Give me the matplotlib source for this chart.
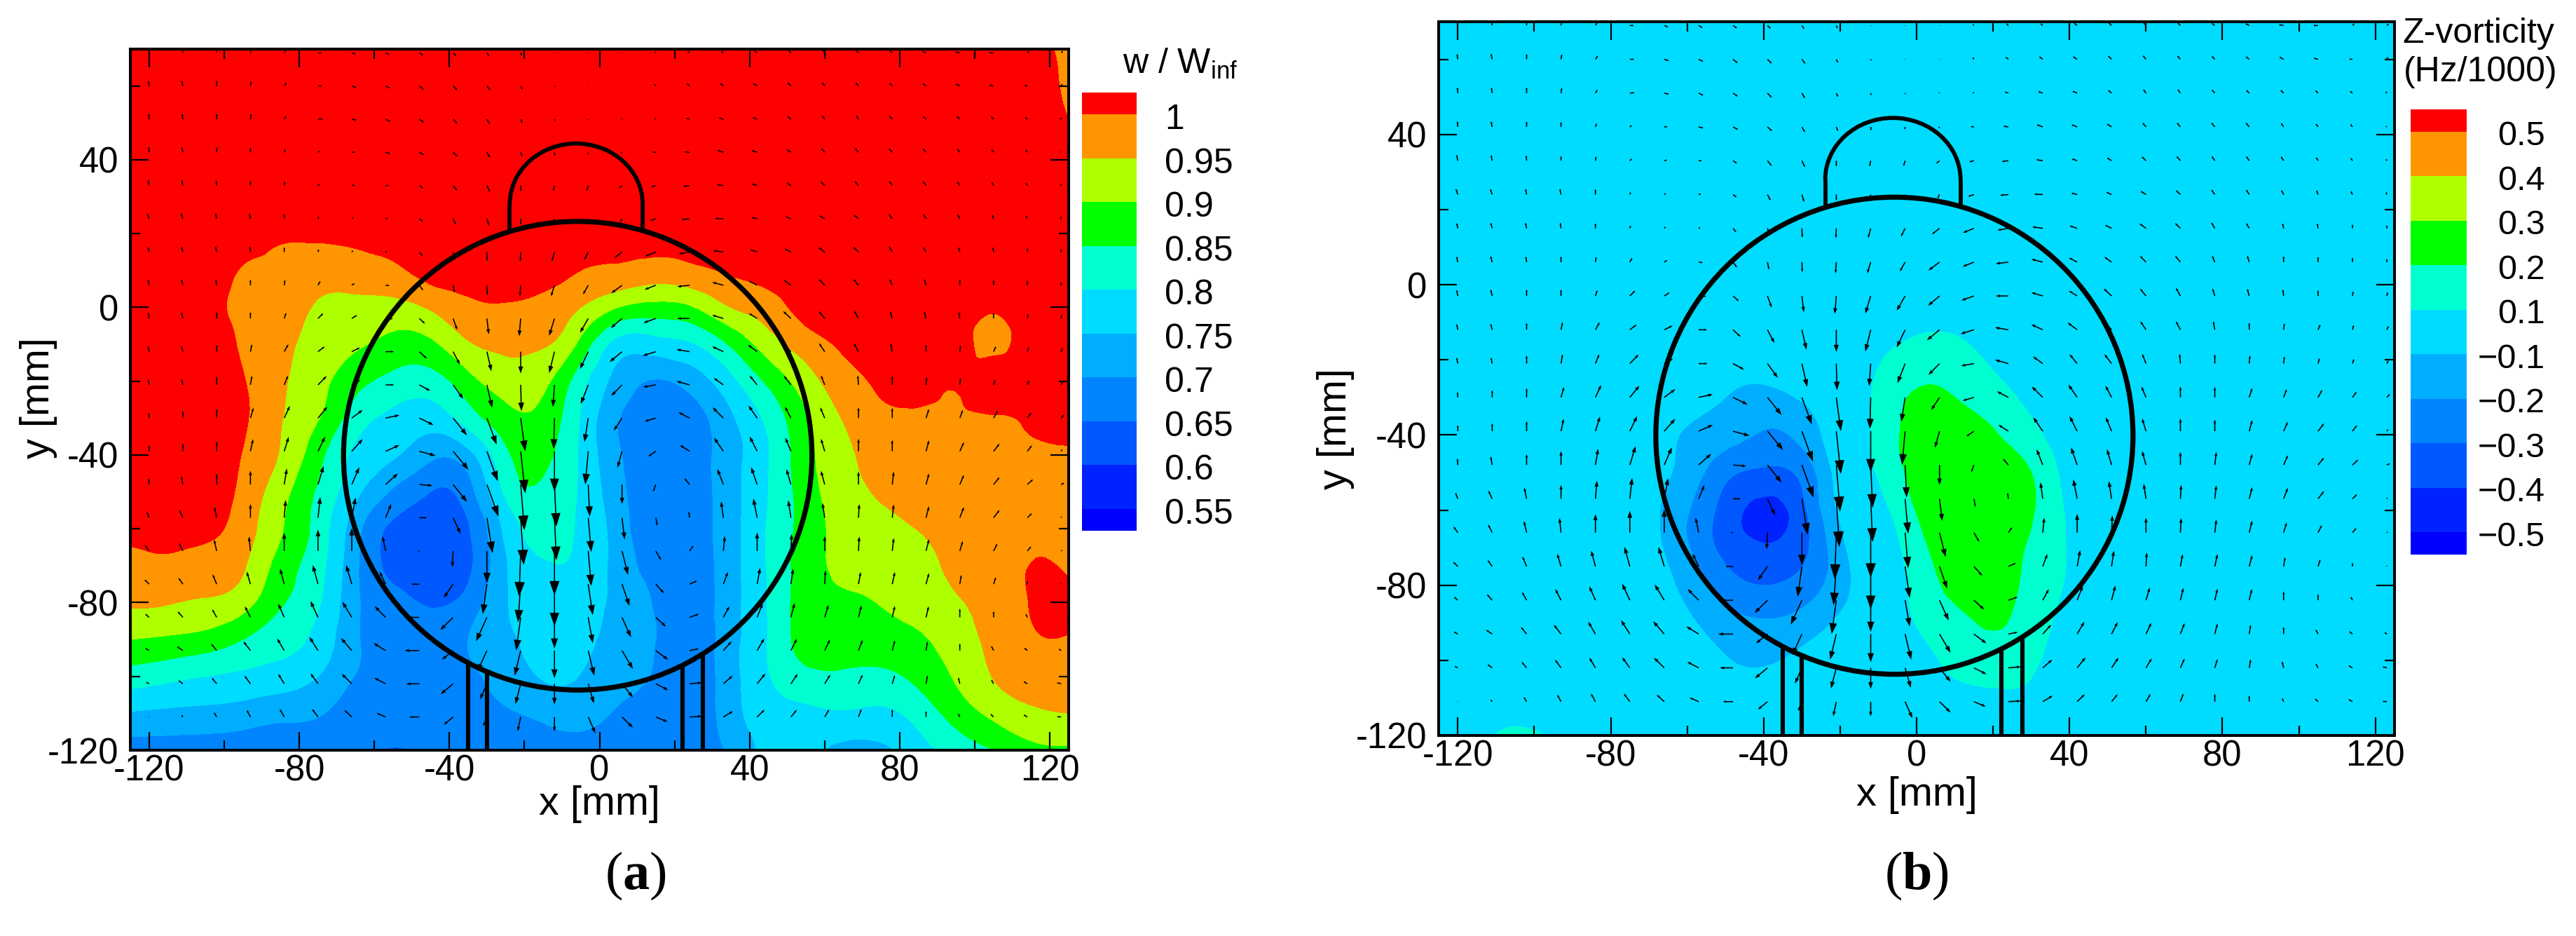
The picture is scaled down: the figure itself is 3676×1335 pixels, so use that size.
import numpy as np
import matplotlib
matplotlib.use("Agg")
import matplotlib.pyplot as plt
import matplotlib.tri as mtri
from matplotlib.patches import Ellipse, Arc
from matplotlib.colors import ListedColormap, BoundaryNorm

plt.rcParams['font.family'] = 'Liberation Sans'
plt.rcParams['mathtext.fontset'] = 'custom'
plt.rcParams['mathtext.rm'] = 'Liberation Sans'
plt.rcParams['mathtext.bf'] = 'Liberation Serif:bold'
plt.rcParams['axes.unicode_minus'] = False

# 1) colour bands, shared by both panels
band_colors = ['#0000FF', '#0022FF', '#0058FF', '#0085FF', '#00AEFF', '#00DCFF',
               '#00FFD0', '#00FF00', '#AEFF00', '#FF9500', '#FF0000']

# 2) panel a: w / W_inf x 100, one list per x column, top (y=70) to bottom (y=-120)
w_x = [-125, -115, -105, -95, -85, -75, -65, -55, -45, -35, -25, -15, -5,
       5, 15, 25, 35, 45, 55, 65, 75, 85, 95, 105, 115, 125]
grid_y = [70, 60, 50, 40, 30, 20, 10, 0, -10, -20, -30, -40, -50, -60, -70, -80, -90, -100, -110, -120]
w_cols = [
    [104, 104, 104, 104, 104, 104, 104, 104, 104, 104, 104, 104, 103, 101.5, 98.5, 95.6, 90, 82.7, 74.6, 67.5],
    [104, 104, 104, 104, 104, 104, 104, 104, 104, 104, 104, 104, 103.5, 102, 99, 95.3, 89.2, 81.4, 74, 67.5],
    [104, 104, 104, 104, 104, 104, 103, 101.8, 102.2, 103, 103.5, 103.5, 103, 101.3, 98, 94.4, 88, 80, 73.6, 67],
    [104, 104, 104, 104, 104, 102.5, 99.7, 99, 99.5, 100.3, 100.8, 99.8, 98.7, 97.5, 95.5, 92, 85, 79, 72.8, 66.5],
    [104, 104, 104, 104, 103, 100.7, 99, 97.5, 96.5, 95.8, 95.3, 94.6, 92, 90.5, 88, 85.6, 82, 77.8, 71.5, 66],
    [104, 104, 104, 104, 103, 100.9, 97.3, 94.5, 93, 91.7, 90.3, 86.7, 84.3, 83, 81.8, 80.6, 78.3, 75, 70.5, 66],
    [104, 104, 104, 104, 103, 101.5, 97.5, 93.7, 90.7, 86.7, 82.5, 79, 76.3, 72, 71, 71, 70.8, 69.8, 67.5, 65.8],
    [104, 104, 104, 104, 103.5, 102.5, 98.9, 93.4, 88.3, 83.4, 78.8, 75.6, 69.3, 64, 63.8, 66.5, 67, 67.3, 67.3, 64.7],
    [104, 104, 104, 104, 103.5, 103, 101.8, 95.6, 88.9, 82.8, 77.4, 71.2, 65, 62.5, 62, 64.5, 66.5, 67, 67, 65.5],
    [104, 104, 104, 104, 104, 103.5, 102, 98.9, 94.4, 88.2, 82.4, 73.3, 67.9, 64.6, 64, 67, 70, 69, 68, 66],
    [104, 104, 104, 104, 104, 102.5, 101, 99.7, 96.2, 92.5, 88.2, 83.9, 81, 76.3, 74.5, 74.5, 74, 72, 69.5, 67],
    [104, 104, 104, 104, 104, 103, 101.5, 98.8, 95.5, 91.3, 88.4, 86.3, 84, 81.7, 79.6, 78.2, 76.8, 75.4, 71, 68],
    [104, 104, 104, 104, 104, 102, 100, 95, 88.5, 82, 79.7, 79.3, 79.3, 79.3, 79, 77.8, 76.5, 74.8, 71.5, 69],
    [104, 104, 104, 104, 104, 102.5, 99, 90, 78, 73, 70.2, 70.6, 71.5, 72.5, 73, 73.5, 73, 71.5, 69.6, 68],
    [104, 104, 104, 104, 104, 102, 98, 88.3, 77.8, 69.7, 67, 66.5, 66.5, 66.5, 68, 69.5, 70, 69.5, 68, 67],
    [104, 104, 104, 104, 104, 102.5, 99, 89.8, 79.7, 72.2, 68, 67.5, 67.5, 67.5, 67.5, 67.5, 67.5, 67.5, 67.5, 67.5],
    [104, 104, 104, 104, 104, 103, 100.5, 95, 85.6, 78.6, 74.2, 73, 73, 73, 73, 73, 73, 73, 72.7, 71],
    [104, 104, 104, 104, 104, 103.5, 101.8, 97.8, 92.6, 86, 81.3, 79.8, 80, 80.5, 80.5, 80.3, 80.2, 79.7, 78, 76.5],
    [104, 104, 104, 104, 104, 104, 103, 101.9, 97.5, 92.7, 89.4, 88.3, 87.5, 87, 87.5, 87.5, 87, 83.5, 79, 76.5],
    [104, 104, 104, 104, 104, 104, 103.5, 102.5, 100.7, 98, 95.3, 93.7, 93, 92, 91, 89.2, 87, 84.3, 79.5, 73.5],
    [104, 104, 104, 104, 104, 104, 104, 103, 102, 100.7, 99, 97.2, 95.4, 94, 92, 90.2, 87.8, 83.9, 79, 74],
    [104, 104, 104, 104, 104, 104, 104, 103.5, 103, 101.3, 99.4, 98, 96.5, 95.1, 93.5, 92, 89.3, 86.3, 82, 78],
    [104, 104, 104, 104, 104, 104, 104, 103.5, 102.5, 100.5, 99.5, 98.5, 97.6, 96.7, 95.8, 94.5, 92.6, 90.6, 87, 82],
    [104, 104, 104, 104, 104, 104, 103, 100.6, 98.5, 102.5, 99.7, 99, 98.5, 98, 97.5, 97, 96.3, 95.2, 91.2, 85],
    [104, 104, 104, 104, 104, 104, 104, 104, 103.5, 102, 100.5, 99.5, 99, 99.3, 100.1, 100.2, 99.4, 97.5, 94, 88.5],
    [96, 98, 100.3, 103, 104, 104, 104, 104, 103.5, 102, 101, 99.7, 99, 99, 99.4, 100.8, 99.7, 97.7, 95, 89],
]
w_levels = [0.55, 0.6, 0.65, 0.7, 0.75, 0.8, 0.85, 0.9, 0.95, 1.0]
w_labels = ['0.55', '0.6', '0.65', '0.7', '0.75', '0.8', '0.85', '0.9', '0.95', '1']

# 3) panel b: z vorticity, background is 0, only the vortex pair area is read off
vort_x = [-125, -120, -110, -100, -90, -80, -70, -60, -50, -40, -30, -20, -10, 0,
          10, 20, 30, 40, 50, 60, 70, 80, 90, 100, 110, 120, 125]
# rows y=-10..-110, columns x=-70..40
vort_core = [
    [0, 0, 0, 0, 0, 0, .03, .07, .07, .03, 0, 0],
    [0, 0, -.04, -.05, -.02, 0, .09, .15, .15, .08, .02, 0],
    [-.02, -.05, -.10, -.13, -.09, -.01, .125, .21, .2, .15, .07, .02],
    [-.05, -.11, -.16, -.21, -.17, -.02, .13, .24, .25, .21, .13, .04],
    [-.06, -.14, -.27, -.32, -.27, -.05, .11, .23, .26, .26, .2, .06],
    [-.07, -.19, -.34, -.43, -.33, -.08, .06, .205, .27, .27, .21, .08],
    [-.06, -.19, -.33, -.39, -.33, -.13, .02, .16, .26, .26, .185, .09],
    [-.05, -.13, -.25, -.30, -.26, -.14, 0, .13, .23, .25, .17, .085],
    [-.03, -.08, -.16, -.19, -.16, -.08, 0, .105, .17, .21, .15, .06],
    [0, -.02, -.09, -.115, -.07, -.03, 0, .05, .13, .15, .12, .03],
    [0, 0, -.03, -.03, 0, 0, 0, .02, .06, .08, .07, .01],
]
vort_corner = [.105, .125]   # small patch at bottom, x=-110 and x=-100
vort_levels = [-.5, -.4, -.3, -.2, -.1, .1, .2, .3, .4, .5]
vort_labels = ['\u22120.5', '\u22120.4', '\u22120.3', '\u22120.2', '\u22120.1', '0.1', '0.2', '0.3', '0.4', '0.5']

# 4) velocity arrows in 1/10 mm, tails at x=-120+9k, y=69-9r (same field in both panels)
arrow_x = [-120, -111, -102, -93, -84, -75, -66, -57, -48, -39, -30, -21, -12, -3,
           6, 15, 24, 33, 42, 51, 60, 69, 78, 87, 96, 105, 114, 123]
arrow_y = [69, 60, 51, 42, 33, 24, 15, 6, -3, -12, -21, -30, -39, -48, -57, -66, -75, -84, -93, -102, -111]
arrow_u = [
    [-2, -2, 0, 2, 5, 10, 10, 10, 10, 8, 6, 3, 1, 0, 0, -3, -5, -6, -8, -8, -7, -7, -8, -10, -12, -12, 5, 5],
    [-2, -3, 0, 2, 6, 11, 12, 12, 12, 11, 9, 4, 1, 0, 0, -3, -7, -9, -11, -9, -8, -8, -8, -9, -11, -11, -8, 3],
    [-1, -2, 0, 2, 5, 12, 12, 12, 12, 11, 8, 4, 1, 0, -1, -3, -9, -12, -12, -9, -7, -7, -8, -8, -8, -7, -6, -3],
    [-1, -3, 0, 0, 3, 5, 8, 12, 13, 12, 8, 4, 1, -1, -2, -8, -13, -16, -15, -12, -9, -9, -9, -9, -7, -6, -5, -2],
    [-3, -3, -1, 0, 2, 5, 7, 8, 10, 11, 8, 0, -3, -4, -8, -12, -17, -17, -14, -12, -11, -10, -8, -8, -7, -5, -4, -2],
    [-5, -5, -3, -3, 0, 2, 4, 6, 9, 8, 6, 0, -3, -4, -5, -15, -22, -23, -15, -14, -14, -12, -9, -8, -6, -4, -4, -2],
    [-3, -4, -3, -2, 0, 2, 3, 4, 8, 5, 1, -1, -7, -11, -20, -29, -29, -28, -20, -17, -17, -14, -9, -8, -3, -2, 0, 0],
    [-3, -4, -2, 0, 2, 6, 7, 10, 10, 4, 1, -2, -9, -14, -29, -30, -33, -30, -22, -19, -16, -14, -7, -5, 0, 0, 0, 0],
    [-3, -4, 0, 0, 5, 14, 14, 20, 15, 11, 5, -4, -14, -22, -30, -33, -33, -30, -22, -21, -16, -12, -6, -5, -2, 0, 2, 2],
    [-3, -4, 0, 4, 11, 18, 22, 22, 20, 18, 12, 0, -14, -22, -33, -35, -35, -30, -25, -20, -15, -12, -4, 0, 2, 6, 3, 4],
    [-3, -3, 0, 4, 10, 23, 23, 23, 29, 27, 14, 2, -4, -20, -29, -34, -35, -26, -20, -19, -10, -2, 0, 2, 2, 4, 4, 4],
    [-1, 0, 0, 8, 15, 25, 29, 37, 38, 37, 26, 12, -2, -10, -22, -30, -30, -29, -23, -16, -12, 0, 0, 8, 8, 11, 11, 8],
    [0, 0, 0, 7, 12, 19, 29, 37, 43, 41, 29, 12, 0, -8, -12, -20, -26, -25, -20, -15, -10, 0, 0, 8, 11, 16, 12, 3],
    [-1, -4, 0, 0, 7, 15, 20, 33, 35, 37, 31, 10, 5, 4, 0, -7, -14, -16, -16, -12, -10, 0, 4, 8, 11, 16, 15, 8],
    [-6, -10, -6, 0, 4, 6, 10, 15, 20, 20, 15, 8, 5, 8, 7, 4, -2, -6, -10, -7, -6, 2, 4, 8, 11, 16, 12, 1],
    [-11, -11, -7, -4, 0, 0, 0, -8, -4, -2, 0, -4, 0, 8, 16, 14, 10, 4, 0, 2, 0, 2, 4, 8, 8, 10, 10, 2],
    [-12, -12, -11, -10, -11, -14, -15, -16, -20, -25, -11, -7, 0, 12, 20, 22, 20, 12, 8, 6, 2, 6, 7, 8, 4, 6, 0, 0],
    [-10, -14, -12, -15, -16, -20, -25, -29, -29, -34, -29, -12, 0, 12, 24, 27, 25, 16, 15, 10, 10, 8, 7, 7, 0, 0, -4, 0],
    [-10, -16, -15, -19, -19, -23, -29, -32, -39, -30, -25, -16, 0, 16, 29, 33, 25, 22, 19, 16, 14, 11, 7, 4, 0, -6, -8, -6],
    [-8, -12, -13, -16, -16, -20, -27, -30, -35, -33, -18, -14, 0, 15, 29, 33, 33, 25, 22, 18, 15, 11, 7, 4, -4, -6, -10, -11],
    [0, -4, -7, -10, -12, -16, -20, -24, -27, -25, -10, -8, 0, 19, 29, 31, 33, 26, 20, 16, 12, 8, 0, 0, -4, -8, -10, -11],
]
arrow_v = [
    [12, 12, 12, 12, 9, 0, -4, -6, -7, -8, -9, -8, -1, -1, -1, 3, 5, 5, 6, 8, 8, 7, 6, 5, 2, 0, 5, 4],
    [14, 15, 14, 13, 9, 0, -4, -6, -10, -11, -12, -9, -3, -1, -1, 5, 6, 7, 7, 9, 10, 9, 8, 7, 6, 3, 1, 6],
    [15, 15, 15, 14, 9, 1, -3, -6, -9, -12, -14, -10, -5, -3, 2, 2, 3, 4, 5, 8, 10, 10, 9, 8, 8, 7, 5, 4],
    [15, 15, 14, 13, 9, 4, 1, -3, -7, -11, -14, -11, -9, -6, -3, 1, 2, 6, 6, 8, 11, 11, 11, 11, 10, 8, 7, 2],
    [16, 15, 14, 12, 11, 5, 2, 0, -7, -14, -17, -15, -15, -14, -7, -3, -2, 3, 5, 8, 11, 12, 12, 12, 11, 9, 7, 4],
    [15, 15, 15, 15, 14, 6, 3, 2, -7, -16, -20, -16, -17, -15, -10, -5, -2, 1, 4, 6, 9, 11, 13, 13, 12, 11, 9, 6],
    [14, 15, 15, 15, 13, 7, 4, 2, -10, -14, -25, -26, -26, -22, -16, -12, -5, 4, 7, 9, 13, 14, 16, 14, 13, 13, 10, 8],
    [15, 16, 15, 15, 14, 11, 5, -1, -14, -20, -27, -30, -30, -25, -22, -12, -4, 8, 12, 14, 17, 17, 17, 17, 16, 14, 12, 8],
    [16, 17, 17, 17, 15, 14, 9, -1, -14, -31, -43, -48, -47, -39, -26, -12, 0, 9, 14, 20, 20, 22, 20, 19, 17, 15, 12, 10],
    [15, 16, 18, 20, 20, 14, 11, 0, -19, -35, -53, -59, -58, -47, -28, -11, 6, 14, 19, 23, 23, 23, 23, 19, 17, 14, 12, 10],
    [16, 16, 22, 25, 25, 24, 13, 0, -16, -38, -62, -71, -60, -52, -30, -6, 10, 19, 25, 25, 26, 26, 25, 22, 19, 14, 12, 8],
    [14, 19, 25, 28, 33, 31, 22, 8, -19, -47, -72, -90, -84, -65, -34, -9, 16, 29, 34, 31, 29, 29, 28, 25, 22, 20, 15, 9],
    [16, 21, 27, 33, 39, 40, 33, 17, -12, -50, -81, -114, -109, -90, -44, -14, 17, 37, 40, 37, 34, 34, 31, 30, 25, 21, 16, 5],
    [17, 23, 29, 37, 43, 50, 47, 30, -3, -47, -87, -124, -114, -87, -53, -19, 17, 42, 47, 42, 37, 35, 35, 30, 26, 20, 14, 4],
    [16, 22, 30, 37, 48, 56, 55, 37, 0, -44, -96, -128, -115, -93, -59, -22, 16, 44, 52, 47, 40, 37, 36, 31, 29, 21, 12, 3],
    [16, 22, 31, 39, 49, 58, 62, 40, 0, -44, -87, -124, -120, -95, -65, -25, 14, 40, 50, 46, 40, 39, 35, 32, 27, 20, 12, 2],
    [12, 17, 27, 34, 42, 52, 52, 34, 0, -37, -81, -103, -114, -84, -59, -25, 9, 33, 44, 42, 37, 33, 33, 30, 25, 19, 9, 2],
    [9, 16, 22, 30, 37, 44, 42, 30, 0, -34, -65, -90, -84, -70, -54, -25, 9, 30, 39, 39, 34, 33, 31, 30, 24, 16, 9, 1],
    [6, 11, 19, 25, 33, 37, 34, 20, 0, -25, -56, -68, -75, -68, -50, -25, 5, 25, 33, 32, 30, 29, 28, 25, 19, 12, 7, 4],
    [4, 9, 16, 22, 27, 28, 27, 16, 0, -28, -42, -55, -56, -53, -37, -17, 3, 22, 28, 27, 25, 25, 24, 23, 17, 11, 6, 3],
    [1, 5, 12, 19, 22, 22, 19, 11, 0, -21, -25, -39, -39, -44, -29, -13, 2, 16, 20, 20, 21, 22, 21, 16, 9, 8, 6, 1],
]

# model outline, mm
CIRCLE_X, CIRCLE_Y, CIRCLE_RX, CIRCLE_RY = -5.8, -40.2, 62.4, 63.5
DOME_X, DOME_Y, DOME_RX, DOME_RY = -6.2, 28.0, 17.7, 16.4
STRUTS = [-35.0, -30.0, 22.2, 27.6]

W, H = 3676, 1335


def px_axes(x0, y0, x1, y1):
    return [x0 / W, 1 - y1 / H, (x1 - x0) / W, (y1 - y0) / H]


def draw_panel(ax, xs, z, levels):
    X, Y = np.meshgrid(xs, grid_y)
    tri = mtri.Triangulation(X.ravel(), Y.ravel())
    tri_f, z_f = mtri.UniformTriRefiner(tri).refine_field(z.ravel(), subdiv=3)
    ax.tricontourf(tri_f, z_f, levels=[-9] + levels + [9], colors=band_colors)

    for r, y in enumerate(arrow_y):
        for k, x in enumerate(arrow_x):
            u, v = arrow_u[r][k] / 10, arrow_v[r][k] / 10
            L = np.hypot(u, v)
            if L == 0:
                continue
            ax.arrow(x, y, u, v, length_includes_head=True, width=0.3, head_width=max(0.22 * L, 0.55),
                     head_length=0.32 * L, fc='k', ec='none', lw=0, zorder=3)

    ax.add_patch(Ellipse((CIRCLE_X, CIRCLE_Y), 2 * CIRCLE_RX, 2 * CIRCLE_RY, fill=False, ec='k', lw=5.2, zorder=4))
    ax.add_patch(Arc((DOME_X, DOME_Y), 2 * DOME_RX, 2 * DOME_RY, theta1=0, theta2=180, ec='k', lw=4.2, zorder=4))
    ax.vlines([DOME_X - DOME_RX, DOME_X + DOME_RX], 20.8, DOME_Y, color='k', lw=4.2, zorder=4)
    for sx in STRUTS:
        top = CIRCLE_Y - CIRCLE_RY * np.sqrt(1 - ((sx - CIRCLE_X) / CIRCLE_RX) ** 2)
        ax.vlines(sx, -120, top, color='k', lw=4.4, zorder=4)

    ax.set_xlim(-125, 125)
    ax.set_ylim(-120, 70)
    ax.set_xticks([-120, -80, -40, 0, 40, 80, 120])
    ax.set_yticks([-120, -80, -40, 0, 40])
    ax.set_xticks([-100, -60, -20, 20, 60, 100], minor=True)
    ax.set_yticks([-100, -60, -20, 20, 60], minor=True)
    ax.tick_params(which='major', direction='in', top=True, right=True, length=19, width=1.6, labelsize=36.5)
    ax.tick_params(which='minor', direction='in', top=True, right=True, length=10, width=1.6)
    ax.tick_params(axis='x', which='major', pad=4)
    ax.tick_params(axis='y', which='major', pad=12)
    for s in ax.spines.values():
        s.set_linewidth(2.9)


def draw_bar(cax, n_labels):
    # key bands are evenly spaced, whole bands between labels and half bands at both ends
    idx = np.arange(n_labels + 2)
    cmap = ListedColormap(band_colors)
    cax.pcolormesh([0, 1], idx, np.arange(len(band_colors)).reshape(-1, 1), cmap=cmap,
                   norm=BoundaryNorm(np.arange(len(band_colors) + 1) - 0.5, len(band_colors)))
    cax.set_xticks([])
    cax.set_yticks([])
    cax.set_ylim(0.5, n_labels + 0.5)
    for s in cax.spines.values():
        s.set_visible(False)


fig = plt.figure(figsize=(W / 100, H / 100), dpi=100, facecolor='white')

# panel a
ax_a = fig.add_axes(px_axes(186, 70, 1525, 1070))
w_grid = np.array(w_cols).T / 100
draw_panel(ax_a, w_x, w_grid, w_levels)
fig.text(855 / W, 1 - 1162 / H, 'x [mm]', fontsize=41.5, ha='center', va='baseline')
fig.text(55 / W, 1 - 568 / H, 'y [mm]', fontsize=41.5, rotation=90, ha='center', va='center')

cax_a = fig.add_axes(px_axes(1544, 132, 1622, 757))
draw_bar(cax_a, len(w_labels))
for i, lab in enumerate(w_labels):
    cax_a.text(1.51, i + 1 - 0.13, lab, transform=cax_a.get_yaxis_transform(), fontsize=36, ha='left', va='center')
fig.text(1602 / W, 1 - 105 / H, r'w / W$_{\mathrm{inf}}$', fontsize=36, ha='left', va='baseline')

# panel b
ax_b = fig.add_axes(px_axes(2053, 31, 3417, 1049))
vort = np.zeros((len(grid_y), len(vort_x)))
vort[8:19, 6:18] = np.array(vort_core)
vort[19, 2:4] = vort_corner
draw_panel(ax_b, vort_x, vort, vort_levels)
fig.text(2735 / W, 1 - 1149 / H, 'x [mm]', fontsize=41.5, ha='center', va='baseline')
fig.text(1906 / W, 1 - 612 / H, 'y [mm]', fontsize=41.5, rotation=90, ha='center', va='center')

cax_b = fig.add_axes(px_axes(3440, 156, 3520, 791))
draw_bar(cax_b, len(vort_labels))
for i, lab in enumerate(vort_labels):
    cax_b.text(2.4, i + 1 - 0.11, lab, transform=cax_b.get_yaxis_transform(), fontsize=35, ha='right', va='center')
fig.text(3428 / W, 1 - 61 / H, 'Z-vorticity', fontsize=36, ha='left', va='baseline')
fig.text(3430 / W, 1 - 116.5 / H, '(Hz/1000)', fontsize=36, ha='left', va='baseline')

# sub figure tags
for cx, tag in [(907, 'a'), (2735, 'b')]:
    fig.text(cx / W, 1 - 1249 / H, '($\\mathbf{' + tag + '}$)', fontsize=55, family='Liberation Serif',
             ha='center', va='center')

fig.savefig('out.png', dpi=100)
